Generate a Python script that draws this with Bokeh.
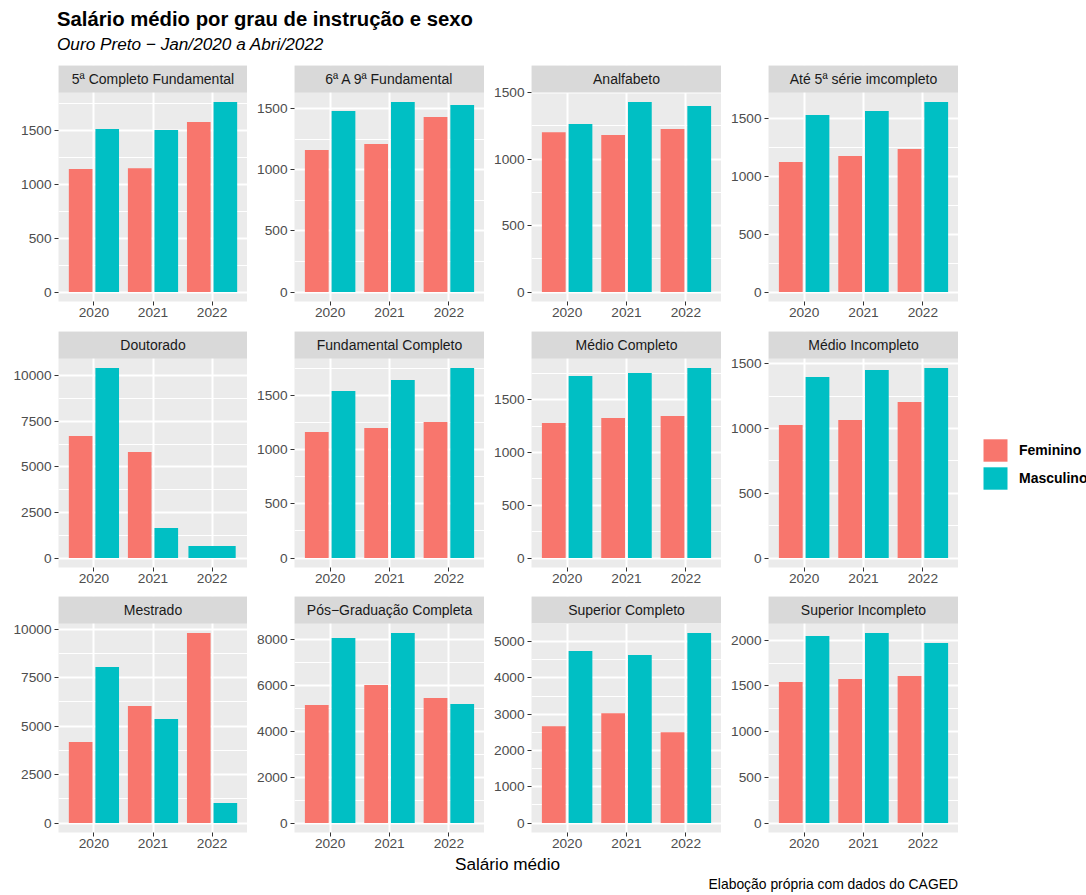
import math
from bokeh.plotting import figure
from bokeh.models import (Range1d, FixedTicker, BoxAnnotation, Label, Div, Spacer,
                          Legend, LegendItem, ColumnDataSource)
from bokeh.layouts import column, row, gridplot
from bokeh.embed import file_html
from bokeh.resources import INLINE

# ---------------- data ----------------
title = "Salário médio por grau de instrução e sexo"
subtitle = "Ouro Preto − Jan/2020 a Abri/2022"
x_title = "Salário médio"
caption = "Elaboção própria com dados do CAGED"

years = ["2020", "2021", "2022"]
sexes = ["Feminino", "Masculino"]
colors = ["#F8766D", "#00BFC4"]

categories = [
    "5ª Completo Fundamental", "6ª A 9ª Fundamental", "Analfabeto", "Até 5ª série imcompleto",
    "Doutorado", "Fundamental Completo", "Médio Completo", "Médio Incompleto",
    "Mestrado", "Pós−Graduação Completa", "Superior Completo", "Superior Incompleto",
]

# values per category: [2020, 2021, 2022]; None = no observation
feminino = [
    [1141, 1150, 1578],
    [1163, 1212, 1434],
    [1203, 1181, 1226],
    [1126, 1178, 1239],
    [6691, 5814, None],
    [1164, 1201, 1257],
    [1279, 1326, 1345],
    [1027, 1065, 1204],
    [4182, 6041, 9811],
    [5130, 6000, 5435],
    [2670, 3029, 2505],
    [1543, 1576, 1609],
]
masculino = [
    [1513, 1503, 1764],
    [1483, 1557, 1533],
    [1264, 1430, 1399],
    [1534, 1569, 1647],
    [10420, 1645, 658],
    [1543, 1645, 1756],
    [1724, 1753, 1800],
    [1397, 1451, 1467],
    [8055, 5370, 1033],
    [8043, 8261, 5174],
    [4742, 4632, 5239],
    [2048, 2080, 1971],
]

# ---------------- styling ----------------
FONT = "Liberation Sans"
PANEL_W = 190
PANEL_H = 209
STRIP_H = 27
LEFT = 47
NCOL = 4
TICK_FS = "13.7px"
STRIP_FS = "14px"


def nice_ticks(lo, hi):
    best = None
    for e in range(0, 7):
        for m in (1, 2, 2.5, 5):
            step = m * 10 ** e
            n = math.floor(hi / step) - math.ceil(lo / step) + 1
            score = abs(n - 5)
            if best is None or score < best[0]:
                best = (score, step)
    step = best[1]
    majors = [k * step for k in range(math.ceil(lo / step), math.floor(hi / step) + 1)]
    half = step / 2
    minors = [k * half for k in range(math.ceil(lo / half), math.floor(hi / half) + 1) if k % 2 != 0]
    return majors, minors


def make_panel(i, bottom):
    name = categories[i]
    series = [feminino[i], masculino[i]]
    xs, tops, ws, cols = [], [], [], []
    for j, yr in enumerate(years):
        present = [(s, series[s][j]) for s in range(len(sexes)) if series[s][j] is not None]
        n = len(present)
        slot = 0.9 / n
        for k, (s, v) in enumerate(present):
            xs.append(j + 1 - 0.45 + slot * (k + 0.5))
            tops.append(v)
            ws.append(0.8 / n)
            cols.append(colors[s])
    vmax = max(tops)
    lo = -0.05 * vmax
    hi = 1.05 * vmax
    top = hi + (hi - lo) * STRIP_H / PANEL_H
    xpos = [j + 1 for j in range(len(years))]

    p = figure(width=LEFT + PANEL_W, height=PANEL_H + STRIP_H + bottom,
               x_range=Range1d(xpos[0] - 0.6, xpos[-1] + 0.6), y_range=Range1d(lo, top),
               output_backend="svg", toolbar_location=None,
               min_border_left=LEFT, min_border_right=0, min_border_top=0,
               min_border_bottom=bottom)
    p.background_fill_color = "#EBEBEB"
    p.border_fill_color = "white"
    p.outline_line_color = None

    majors, minors = nice_ticks(lo, hi)
    p.yaxis.ticker = FixedTicker(ticks=majors, minor_ticks=minors)
    p.xaxis.ticker = FixedTicker(ticks=xpos)
    p.xaxis.major_label_overrides = {x: yr for x, yr in zip(xpos, years)}

    for ax in (p.xaxis[0], p.yaxis[0]):
        ax.axis_line_color = None
        ax.major_tick_line_color = "#333333"
        ax.major_tick_line_width = 1
        ax.major_tick_out = 4
        ax.major_tick_in = 0
        ax.minor_tick_line_color = None
        ax.major_label_text_font = FONT
        ax.major_label_text_font_size = TICK_FS
        ax.major_label_text_color = "#4D4D4D"
    p.yaxis.major_label_standoff = 3
    p.xaxis.major_label_standoff = 2

    p.xgrid.grid_line_color = "white"
    p.xgrid.grid_line_width = 2
    p.ygrid.grid_line_color = "white"
    p.ygrid.grid_line_width = 2
    p.ygrid.minor_grid_line_color = "white"
    p.ygrid.minor_grid_line_width = 1

    src = ColumnDataSource(dict(x=xs, top=tops, w=ws, color=cols))
    p.vbar(x="x", top="top", width="w", bottom=0, source=src,
           fill_color="color", line_color=None)

    p.add_layout(BoxAnnotation(bottom=hi, fill_color="#D9D9D9", fill_alpha=1,
                               line_color=None))
    p.add_layout(Label(x=sum(xpos) / len(xpos), y=(hi + top) / 2, text=name,
                       text_align="center", text_baseline="middle",
                       text_font=FONT, text_font_size=STRIP_FS, text_color="#1A1A1A"))
    return p


bottoms = [30, 29, 23]
rows = []
for r in range(3):
    rows.append([make_panel(r * NCOL + c, bottoms[r]) for c in range(NCOL)])
grid = gridplot(rows, toolbar_location=None)

grid_h = sum(PANEL_H + STRIP_H + b for b in bottoms)

# legend figure
lp = figure(width=128, height=grid_h, x_range=Range1d(0, 1), y_range=Range1d(0, 1),
            output_backend="svg", toolbar_location=None, min_border=0,
            x_axis_location=None, y_axis_location=None)
lp.grid.visible = False
lp.outline_line_color = None
lp.background_fill_color = "white"
lp.border_fill_color = "white"
items = []
for s, c in zip(sexes, colors):
    # zero-height bar: invisible in the plot, used only for the legend swatch
    rr = lp.vbar(x=[0.5], top=[0], bottom=0, width=0.1, fill_color=c, line_color=None)
    items.append(LegendItem(label=s, renderers=[rr]))
legend = Legend(items=items, location=(22, 363), glyph_width=30, glyph_height=28,
                spacing=0, padding=0, margin=0, label_standoff=9,
                label_text_font=FONT, label_text_font_size=STRIP_FS,
                label_text_font_style="bold", label_text_color="#000000",
                border_line_color=None, background_fill_alpha=0)
lp.add_layout(legend)

title_div = Div(text=f'<div style="font-family:{FONT};font-size:20.3px;font-weight:bold;'
                     f'line-height:22px;padding-top:8px;padding-left:57px;color:#000;'
                     f'white-space:nowrap">{title}</div>',
                width=1000, height=35, margin=(0, 0, 0, 0))
sub_div = Div(text=f'<div style="font-family:{FONT};font-size:17.2px;font-style:italic;'
                   f'line-height:18px;padding-left:57px;color:#000;white-space:nowrap">{subtitle}</div>',
              width=1000, height=30, margin=(0, 0, 0, 0))
xlab_div = Div(text=f'<div style="display:block;width:901px;font-family:{FONT};font-size:17.2px;'
                    f'line-height:18px;text-align:center;color:#000;white-space:nowrap">{x_title}</div>',
               width=901, height=22, margin=(0, 0, 0, 0))
cap_div = Div(text=f'<div style="display:block;width:958px;font-family:{FONT};font-size:13.9px;'
                   f'line-height:14px;text-align:right;color:#000;white-space:nowrap">{caption}</div>',
              width=958, height=14, margin=(0, 0, 0, 0))

layout = column(
    title_div,
    sub_div,
    row(Spacer(width=10, height=grid_h), grid, lp),
    row(Spacer(width=57, height=22), xlab_div),
    cap_div,
)

open("out.html", "w").write(file_html(layout, INLINE))
